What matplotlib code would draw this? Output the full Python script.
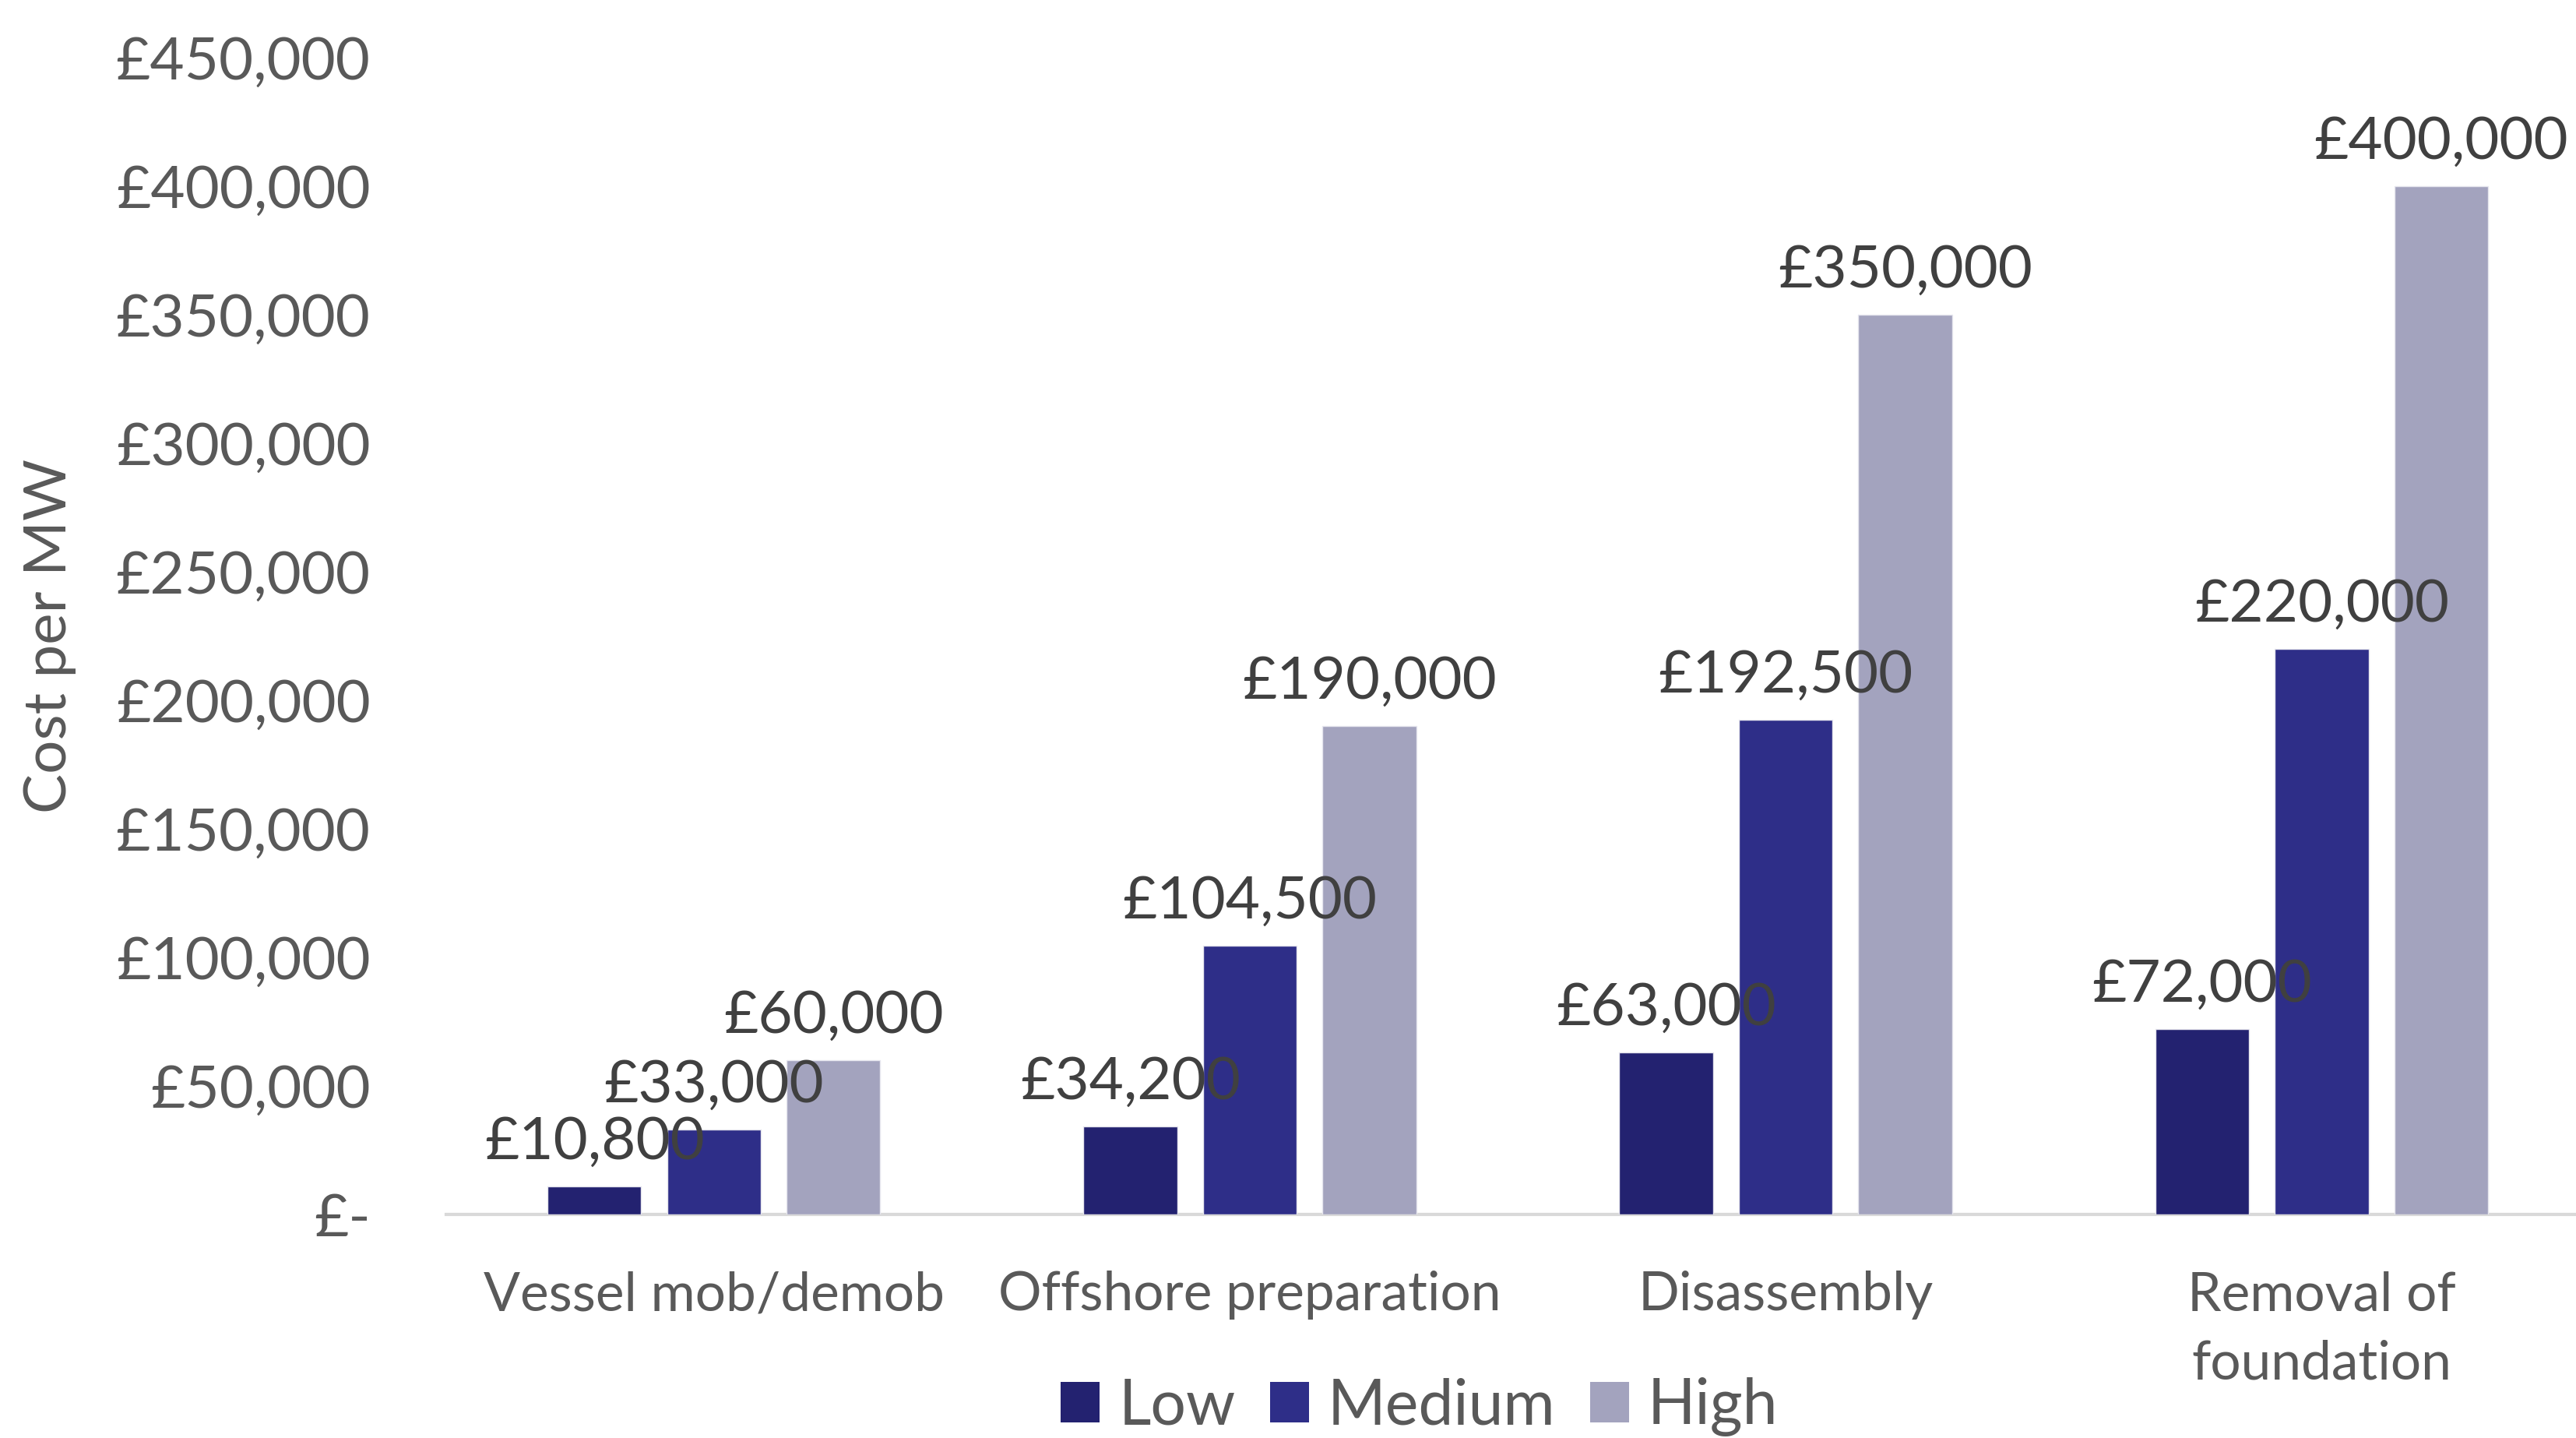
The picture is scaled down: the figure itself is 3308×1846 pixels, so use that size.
import matplotlib
matplotlib.use("Agg")
import matplotlib.pyplot as plt
import numpy as np
from matplotlib.patches import Patch

categories = ["Vessel mob/demob", "Offshore preparation", "Disassembly", "Removal of\nfoundation"]
series_names = ["Low", "Medium", "High"]
low = [10800, 34200, 63000, 72000]
medium = [33000, 104500, 192500, 220000]
high = [60000, 190000, 350000, 400000]
yticks = [0, 50000, 100000, 150000, 200000, 250000, 300000, 350000, 400000, 450000]

colors = ["#232270", "#2E2E88", "#A3A3BE"]
FONT = ["Lato", "DejaVu Sans"]
plt.rcParams["font.family"] = FONT

DPI = 100
fig = plt.figure(figsize=(33.08, 18.46), dpi=DPI)
ax = fig.add_axes([0.1731, 0.1555, 0.8322, 0.8044])

x = np.arange(len(categories))
offset = 0.223
width = 0.175
series = [low, medium, high]
for i, (vals, c) in enumerate(zip(series, colors)):
    xs = x + (i - 1) * offset
    ax.bar(xs, vals, width=width, color=c, edgecolor="#E6E6EE", linewidth=1.0, zorder=3)
    for xv, v in zip(xs, vals):
        ax.annotate(f"£{v:,.0f}", (xv, v), xytext=(0, 41), textcoords="offset points",
                    ha="center", va="center", fontsize=55, color="#404040", zorder=5,
                    annotation_clip=False)

ax.set_xlim(-0.5, len(categories) - 0.5)
ax.set_ylim(0, 450000)
ax.set_yticks(yticks)
ax.set_yticklabels(["£-" if t == 0 else f"£{t:,.0f}" for t in yticks])
ax.set_xticks(x)
ax.set_xticklabels(categories, linespacing=1.5)

for s in ["top", "right", "left"]:
    ax.spines[s].set_visible(False)
ax.spines["bottom"].set_color("#D9D9D9")
ax.spines["bottom"].set_linewidth(3)
ax.spines["bottom"].set_zorder(2)

ax.tick_params(axis="y", length=0, pad=70, labelsize=55, labelcolor="#595959")
ax.tick_params(axis="x", length=0, pad=52, labelsize=50, labelcolor="#595959")
for lab in ax.get_xticklabels():
    lab.set_verticalalignment("top")

ax.set_ylabel("Cost per MW", fontsize=55, color="#595959")
ax.yaxis.set_label_coords(-0.1725, 0.5)

handles = [Patch(facecolor=c, edgecolor="none", label=n) for c, n in zip(colors, series_names)]
leg = fig.legend(handles=handles, loc="center", bbox_to_anchor=(0.551, 0.0215), ncol=3,
                 frameon=False, fontsize=58, handlelength=0.62, handleheight=0.62,
                 handletextpad=0.3, columnspacing=0.55, labelcolor="#595959")

fig.savefig("out.png", dpi=DPI)
